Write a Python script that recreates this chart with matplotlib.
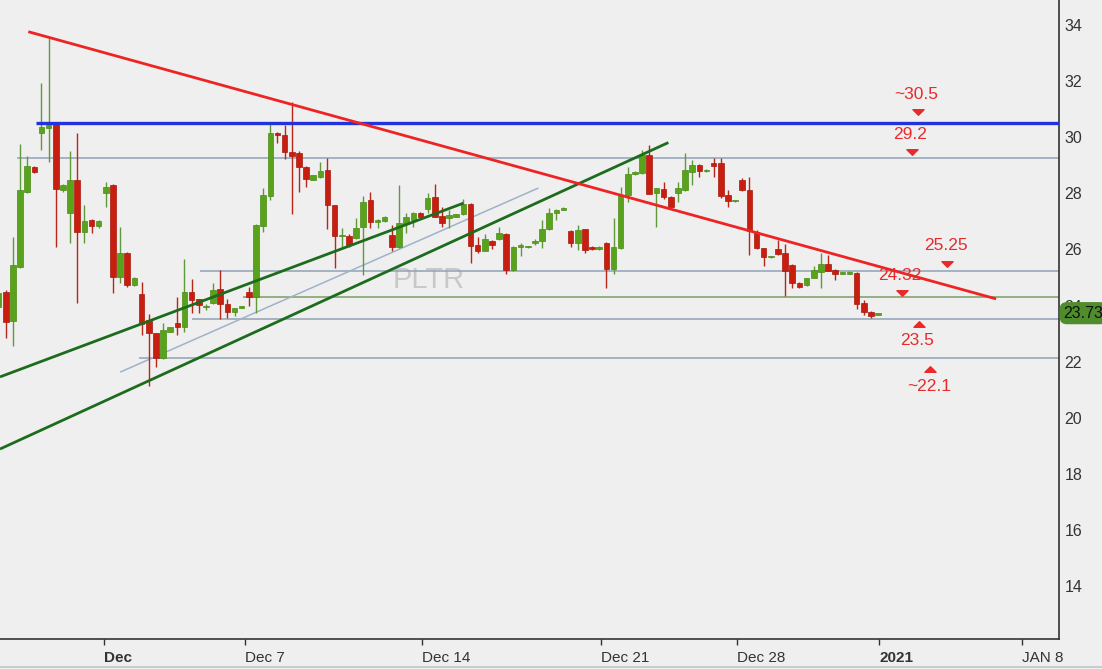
import numpy as np
import matplotlib
matplotlib.use("Agg")
import matplotlib.pyplot as plt
from matplotlib.path import Path
from matplotlib.lines import Line2D
from matplotlib import font_manager
import matplotlib.transforms as mtransforms

# ---------------- data ----------------
bar_index = list(range(-1, 123))
opens = [23.96, 24.50, 23.45, 25.39, 28.06, 28.95, 30.14, 30.32, 30.47, 28.12,
         27.29, 28.48, 26.61, 27.05, 26.84, 28.00, 28.30, 25.03, 25.86, 24.73,
         24.41, 23.49, 23.01, 22.12, 23.07, 23.39, 23.25, 24.50, 24.22, 23.94,
         24.08, 24.58, 24.05, 23.78, 23.92, 24.47, 24.32, 26.84, 27.91, 30.16,
         30.07, 29.48, 29.45, 28.95, 28.48, 28.57, 28.83, 27.59, 26.48, 26.49,
         26.40, 26.81, 27.76, 26.99, 27.01, 26.52, 26.08, 26.91, 27.05, 27.29,
         27.43, 27.86, 27.19, 27.11, 27.17, 27.25, 27.62, 26.16, 25.96, 26.31,
         26.36, 26.55, 25.27, 26.08, 26.09, 26.22, 26.31, 26.72, 27.29, 27.41,
         26.66, 26.24, 26.72, 26.10, 26.00, 26.24, 25.29, 26.04, 27.94, 28.68,
         28.71, 29.37, 28.00, 28.14, 27.88, 28.00, 28.12, 28.77, 29.01, 28.80,
         29.07, 29.07, 27.94, 27.72, 28.48, 28.12, 26.63, 26.04, 25.72, 26.02,
         25.89, 25.45, 24.82, 24.73, 25.00, 25.21, 25.48, 25.27, 25.14, 25.13,
         25.17, 24.08, 23.78, 23.67]
highs = [24.50, 24.55, 26.43, 29.76, 29.33, 28.97, 31.92, 33.53, 30.50, 28.35,
         29.51, 30.16, 27.59, 27.10, 27.05, 28.42, 28.32, 26.81, 25.90, 25.02,
         24.85, 23.70, 23.03, 23.39, 23.25, 24.32, 25.66, 24.95, 24.25, 24.05,
         24.79, 25.27, 24.25, 23.92, 23.98, 24.67, 26.90, 28.18, 30.50, 30.18,
         30.44, 31.25, 29.50, 28.97, 28.66, 29.13, 29.25, 27.60, 26.78, 26.55,
         27.11, 27.91, 28.06, 27.10, 27.20, 26.87, 28.30, 27.29, 27.32, 27.35,
         28.00, 28.33, 27.53, 27.40, 27.28, 27.79, 27.67, 26.46, 26.55, 26.33,
         26.81, 26.57, 26.12, 26.22, 26.14, 26.36, 27.05, 27.47, 27.43, 27.51,
         26.68, 26.87, 26.74, 26.12, 26.12, 26.26, 27.11, 28.24, 28.95, 28.78,
         29.55, 29.72, 28.20, 28.42, 27.90, 28.42, 29.43, 29.19, 29.03, 28.87,
         29.25, 29.25, 28.12, 27.77, 28.54, 28.59, 26.69, 26.06, 25.78, 26.34,
         26.19, 25.47, 24.84, 24.99, 25.41, 25.86, 25.80, 25.29, 25.18, 25.23,
         25.19, 24.20, 23.80, 23.75]
lows = [23.90, 22.83, 22.56, 25.34, 28.00, 28.74, 29.55, 29.13, 26.10, 28.05,
        26.24, 24.10, 26.24, 26.60, 26.76, 27.52, 24.44, 24.79, 24.68, 24.71,
        22.95, 21.13, 21.82, 22.10, 23.05, 22.95, 23.07, 23.75, 23.73, 23.85,
        24.05, 23.51, 23.55, 23.63, 23.90, 24.00, 23.75, 26.63, 27.76, 29.78,
        29.21, 27.26, 28.06, 28.24, 28.46, 28.55, 26.72, 25.33, 26.10, 26.10,
        26.38, 25.09, 26.75, 26.75, 26.99, 25.96, 26.06, 26.60, 26.81, 27.15,
        27.30, 27.15, 26.81, 26.75, 27.15, 27.23, 25.51, 25.86, 25.94, 26.00,
        26.34, 25.13, 25.25, 25.77, 26.06, 26.15, 26.04, 26.70, 27.05, 27.39,
        26.10, 25.98, 25.86, 25.98, 25.98, 24.62, 25.13, 26.02, 27.70, 28.66,
        28.69, 27.96, 26.81, 27.79, 27.50, 27.70, 28.10, 28.30, 28.57, 28.76,
        28.59, 27.82, 27.53, 27.70, 28.10, 25.80, 26.02, 25.41, 25.70, 25.82,
        24.34, 24.62, 24.62, 24.71, 24.98, 24.62, 25.22, 24.91, 25.12, 25.11,
        23.87, 23.67, 23.55, 23.65]
closes = [24.44, 23.43, 25.45, 28.12, 28.99, 28.76, 30.35, 30.45, 28.14, 28.30,
          28.48, 26.61, 27.01, 26.85, 27.01, 28.24, 25.03, 25.86, 24.73, 25.00,
          23.34, 23.01, 22.12, 23.13, 23.23, 23.25, 24.50, 24.20, 24.02, 23.99,
          24.56, 24.05, 23.78, 23.90, 23.95, 24.32, 26.87, 27.94, 30.16, 30.08,
          29.48, 29.34, 28.93, 28.50, 28.64, 28.80, 27.59, 26.49, 26.50, 26.16,
          26.75, 27.70, 26.99, 27.05, 27.17, 26.10, 26.95, 27.15, 27.29, 27.17,
          27.85, 27.17, 26.95, 27.23, 27.26, 27.61, 26.12, 25.96, 26.37, 26.16,
          26.58, 25.27, 26.10, 26.15, 26.11, 26.30, 26.72, 27.31, 27.41, 27.49,
          26.22, 26.69, 25.98, 26.00, 26.10, 25.29, 26.08, 27.94, 28.68, 28.75,
          29.37, 27.98, 28.18, 27.88, 27.52, 28.20, 28.83, 29.01, 28.81, 28.82,
          28.97, 27.91, 27.74, 27.74, 28.12, 26.67, 26.04, 25.74, 25.76, 25.84,
          25.24, 24.80, 24.67, 24.97, 25.27, 25.48, 25.24, 25.13, 25.16, 25.21,
          24.06, 23.78, 23.63, 23.73]

x_tick_labels = ["Dec", "Dec 7", "Dec 14", "Dec 21", "Dec 28", "2021", "JAN 8"]
x_tick_pos = [13.75, 33.47, 58.22, 83.26, 102.28, 122.14, 142.14]
bold_labels = ["Dec", "2021"]
y_ticks = [14, 16, 18, 20, 22, 24, 26, 28, 30, 32, 34]

# horizontal levels and the bar where each starts
h_levels = [30.5, 29.25, 25.24, 24.32, 23.52, 22.12]
h_starts = [4.2, 1.6, 27.2, 33.2, 26.1, 18.7]
# trend lines: ((x0, p0), (x1, p1))
red_trend = ((3.16, 33.76), (138.5, 24.24))
green_lower = ((-0.8, 18.89), (92.67, 29.81))
green_upper = ((-0.8, 21.46), (64.0, 27.65))
thin_channel = ((16.1, 21.64), (74.4, 28.18))

# annotation labels: text, text pos, marker pos, direction
ann_texts = ["~30.5", "29.2", "25.25", "24.32", "23.5", "~22.1"]
ann_text_xy = [(127.4, 31.53), (126.5, 30.10), (131.5, 26.13), (125.1, 25.08),
               (127.5, 22.75), (129.2, 21.13)]
ann_mark_xy = [(127.6, 30.89), (126.7, 29.46), (131.7, 25.48), (125.3, 24.44),
               (127.7, 23.34), (129.3, 21.73)]
ann_dir = ["down", "down", "down", "down", "up", "up"]

last_price = 23.73
symbol = "PLTR"

# ---------------- styling ----------------
BG = "#efefef"
GREEN_BODY = "#58a21c"
GREEN_EDGE = "#4a8c16"
GREEN_WICK = "#5e9a3a"
RED_BODY = "#c81e10"
RED_EDGE = "#a8180c"
RED_WICK = "#b8261a"

names = {f.name for f in font_manager.fontManager.ttflist}
narrow = "Liberation Sans Narrow" if "Liberation Sans Narrow" in names else "Liberation Sans"
plt.rcParams["font.family"] = ["Liberation Sans", "DejaVu Sans"]

W, H = 1102, 669
fig = plt.figure(figsize=(W / 100, H / 100), dpi=100, facecolor=BG)
ax = fig.add_axes([0, 30 / H, 1059 / W, 639 / H])
ax.set_facecolor(BG)
x_left, x_right = -0.8, 147.3
ax.set_xlim(x_left, x_right)
ax.set_ylim(12.12, 34.89)

# horizontal levels
level_colors = ["#2233dd", "#8fa2b6", "#8fa2b6", "#7c9e66", "#8fa2b6", "#8fa2b6"]
level_widths = [2.4, 1.1, 1.1, 1.1, 1.1, 1.1]
for lvl, xs, col, lw in zip(h_levels, h_starts, level_colors, level_widths):
    ax.plot([xs, x_right], [lvl, lvl], color=col, lw=lw,
            zorder=5 if lw > 2 else 2, solid_capstyle="butt")

# thin channel line
ax.plot([thin_channel[0][0], thin_channel[1][0]], [thin_channel[0][1], thin_channel[1][1]],
        color="#9fb3c8", lw=1.1, zorder=2)

# candles
for x, o, h, l, c in zip(bar_index, opens, highs, lows, closes):
    up = c >= o
    body = GREEN_BODY if up else RED_BODY
    edge = GREEN_EDGE if up else RED_EDGE
    wick = GREEN_WICK if up else RED_WICK
    ax.vlines(x, l, h, color=wick, lw=1.0, zorder=3)
    hgt = max(abs(c - o), 0.05)
    ax.bar(x, hgt, bottom=min(o, c), width=0.78, color=body, edgecolor=edge,
           lw=0.5, zorder=3.5)

# trend lines
for seg, col, lw in [(green_lower, "#1d6b1d", 2.0), (green_upper, "#1d6b1d", 2.0),
                     (red_trend, "#ee2424", 2.0)]:
    ax.plot([seg[0][0], seg[1][0]], [seg[0][1], seg[1][1]], color=col, lw=lw,
            zorder=6, solid_capstyle="butt")

# watermark
ax.text(59.1, 24.91, symbol, fontsize=21, color="#c8c8c8", ha="center",
        va="center", zorder=1)

# annotations
down_tri = Path([(-1, 0.5), (1, 0.5), (0, -0.5), (-1, 0.5)],
                [Path.MOVETO, Path.LINETO, Path.LINETO, Path.CLOSEPOLY])
up_tri = Path([(-1, -0.5), (1, -0.5), (0, 0.5), (-1, -0.5)],
              [Path.MOVETO, Path.LINETO, Path.LINETO, Path.CLOSEPOLY])
ANN = "#e82a2a"
for t, (tx, ty), (mx, my), d in zip(ann_texts, ann_text_xy, ann_mark_xy, ann_dir):
    ax.text(tx, ty, t, color=ANN, fontsize=12.5, ha="center", va="center", zorder=7)
    ax.plot([mx], [my], marker=down_tri if d == "down" else up_tri,
            markersize=8, color=ANN, zorder=7, linestyle="none")

# axes styling
for s in ["left", "top"]:
    ax.spines[s].set_visible(False)
for s in ["right", "bottom"]:
    ax.spines[s].set_color("#333333")
    ax.spines[s].set_linewidth(1.2)

ax.yaxis.tick_right()
ax.set_yticks(y_ticks)
ax.set_yticklabels([str(v) for v in y_ticks])
ax.tick_params(axis="y", length=0, pad=4, labelsize=11.5, labelcolor="#333333")

ax.set_xticks(x_tick_pos)
ax.set_xticklabels(x_tick_labels)
ax.tick_params(axis="x", length=4, width=1, direction="out", color="#333333",
               pad=5, labelsize=11, labelcolor="#333333")
for lab in ax.get_xticklabels():
    lab.set_ha("left")
    lab.set_family([narrow, "DejaVu Sans"])
    if lab.get_text() in bold_labels:
        lab.set_fontweight("bold")

# last price box
trans = mtransforms.blended_transform_factory(ax.transAxes, ax.transData)
ax.text(1.004, last_price, f"{last_price:.2f}", transform=trans, ha="left",
        va="center", fontsize=11.5, color="#111111", clip_on=False, zorder=10,
        bbox=dict(boxstyle="round,pad=0.18,rounding_size=0.4", fc="#4e8c2c",
                  ec="#4e8c2c"))

# bottom border line of the figure
fig.add_artist(Line2D([0, 1], [2.5 / H, 2.5 / H], color="#c4c4c4", lw=1.2))

fig.savefig("out.png", dpi=100, facecolor=BG)
